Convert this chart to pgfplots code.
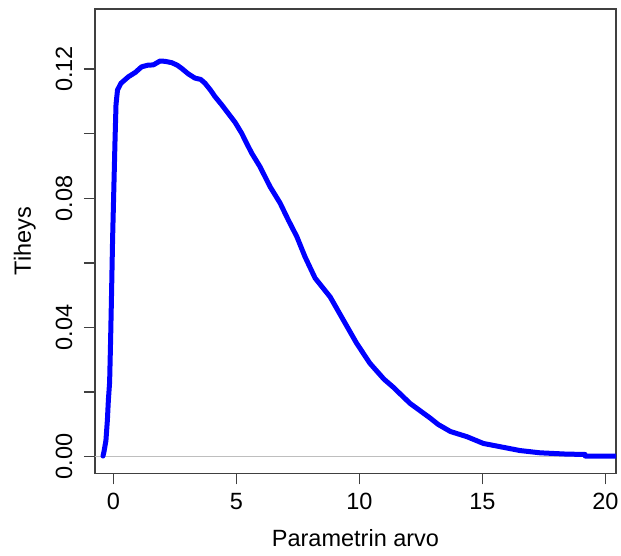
\documentclass[border=0pt]{standalone}
\usepackage{pgfplots}
\pgfplotsset{compat=1.18}
\usepackage{fontspec}
\setmainfont{Liberation Sans}
\definecolor{rblue}{RGB}{0,0,255}
\definecolor{boxgray}{RGB}{64,64,64}
\definecolor{linegray}{RGB}{190,190,190}
\begin{document}
\begin{tikzpicture}
\begin{axis}[
  scale only axis,
  width=521pt, height=464.3pt,
  xmin=-0.744, xmax=20.43,
  ymin=-0.00514, ymax=0.1386,
  axis line style={boxgray, line width=1.3pt},
  tick style={boxgray, line width=1.3pt},
  major tick style={boxgray, line width=1.3pt},
  minor tick style={boxgray, line width=1.3pt},
  tick align=outside,
  major tick length=11pt,
  minor tick length=11pt,
  xtick={0,5,10,15,20},
  xticklabels={0,5,10,15,20},
  ytick={0,0.04,0.08,0.12},
  yticklabels={0.00,0.04,0.08,0.12},
  minor ytick={0.02,0.06,0.10},
  xtick pos=bottom, ytick pos=left,
  /pgf/number format/assume math mode=true,
  tick label style={font=\fontsize{23.5}{28}\selectfont},
  xticklabel style={yshift=-5pt},
  yticklabel style={xshift=-8pt, rotate=90, anchor=south},
  label style={font=\fontsize{23.5}{28}\selectfont},
  xlabel={Parametrin arvo},
  ylabel={Tiheys},
  xlabel style={at={([yshift=-73.4pt]axis description cs:0.5,0)}, anchor=base},
  ylabel style={at={([xshift=-64pt]axis description cs:0,0.5)}, anchor=base, rotate=0},
  clip=true,
]
\coordinate (sw) at (rel axis cs:0,0);
\coordinate (ne) at (rel axis cs:1,1);
\addplot[linegray, line width=1.3pt] coordinates {(-0.744,0) (20.43,0)};
\addplot[rblue, line width=5pt, line join=round, line cap=round] coordinates {
(-0.42,0.0002)
(-0.38,0.0015)
(-0.30,0.005)
(-0.24,0.0114)
(-0.20,0.0176)
(-0.15,0.023)
(-0.11,0.036)
(-0.07,0.051)
(-0.03,0.067)
(0.02,0.0825)
(0.07,0.098)
(0.11,0.109)
(0.17,0.1135)
(0.31,0.1156)
(0.61,0.1176)
(0.9,0.1190)
(1.15,0.1207)
(1.4,0.1212)
(1.63,0.1213)
(1.9,0.1225)
(2.1,0.1224)
(2.37,0.1220)
(2.6,0.1212)
(2.78,0.1202)
(3.05,0.1185)
(3.32,0.1172)
(3.55,0.1168)
(3.73,0.1156)
(3.95,0.1135)
(4.13,0.1115)
(4.4,0.109)
(4.67,0.1063)
(4.95,0.1035)
(5.22,0.1001)
(5.42,0.0970)
(5.63,0.0939)
(5.96,0.0898)
(6.37,0.0836)
(6.78,0.0785)
(7.11,0.0733)
(7.46,0.0681)
(7.79,0.0619)
(8.2,0.0553)
(8.81,0.0495)
(9.35,0.0423)
(9.89,0.0351)
(10.43,0.0289)
(11.0,0.0240)
(11.38,0.0215)
(11.65,0.0195)
(12.06,0.0165)
(12.87,0.0120)
(13.2,0.0100)
(13.7,0.0078)
(14.37,0.0062)
(15.04,0.0041)
(15.72,0.0031)
(16.53,0.0019)
(17.35,0.0012)
(18.43,0.0008)
(19.17,0.0007)
(19.18,0.0002)
(20.43,0.0002)
};
\end{axis}
\pgfresetboundingbox
\path ([shift={(-95pt,-81.7pt)}]sw) rectangle ([shift={(5pt,9pt)}]ne);
\end{tikzpicture}
\end{document}
